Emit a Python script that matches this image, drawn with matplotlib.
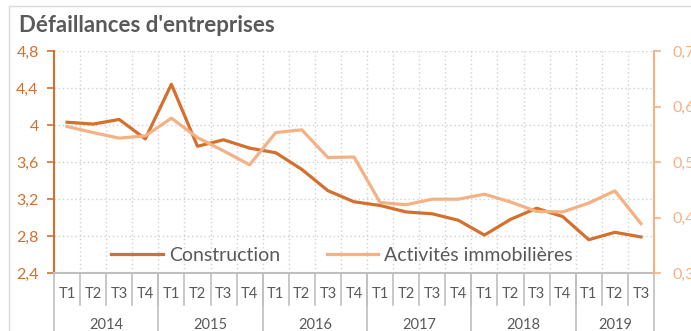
import matplotlib.pyplot as plt
import matplotlib.transforms as mtransforms
from matplotlib.lines import Line2D
from matplotlib.patches import Rectangle
from matplotlib.ticker import FuncFormatter
import numpy as np

plt.rcParams['font.family'] = ['Lato', 'DejaVu Sans']

years = ['2014', '2015', '2016', '2017', '2018', '2019']
quarters_per_year = [4, 4, 4, 4, 4, 3]
quarter_labels = [f"T{q + 1}" for n in quarters_per_year for q in range(n)]

construction = [4.03, 4.01, 4.06, 3.85,
                4.44, 3.77, 3.84, 3.75,
                3.70, 3.52, 3.29, 3.17,
                3.13, 3.06, 3.04, 2.97,
                2.81, 2.98, 3.10, 3.01,
                2.76, 2.84, 2.79]
immobilier = [0.564, 0.553, 0.543, 0.547,
              0.579, 0.544, 0.520, 0.495,
              0.553, 0.558, 0.508, 0.509,
              0.427, 0.423, 0.433, 0.433,
              0.442, 0.428, 0.411, 0.410,
              0.426, 0.448, 0.389]

dark = '#D4702E'
light = '#F4B183'
grey_txt = '#595959'
grey_line = '#BFBFBF'

W, H = 691, 331
fig = plt.figure(figsize=(W / 100, H / 100), dpi=100)
ax = fig.add_axes([54 / W, 1 - 273 / H, 600 / W, 222 / H])
ax2 = ax.twinx()

# chart border
fig.patches.append(Rectangle((9 / W, -0.1), 1.2, 1.1 - 6 / H, transform=fig.transFigure,
                             fill=False, edgecolor='#D9D9D9', linewidth=1))

x = np.arange(len(construction))
l1, = ax.plot(x, construction, color=dark, lw=2.3, label='Construction', zorder=3)
l2, = ax2.plot(x, immobilier, color=light, lw=2.3, label='Activités immobilières', zorder=2)

n = len(x)
ax.set_xlim(-0.5, n - 0.5)
ax.set_ylim(2.4, 4.8)
ax2.set_ylim(0.3, 0.7)
ax.set_yticks(np.arange(2.4, 4.81, 0.4))
ax2.set_yticks(np.arange(0.3, 0.71, 0.1))
fmt = lambda v, p: f"{v:.2f}".rstrip('0').rstrip('.').replace('.', ',')
ax.yaxis.set_major_formatter(FuncFormatter(fmt))
ax2.yaxis.set_major_formatter(FuncFormatter(fmt))

ax.tick_params(axis='y', colors=dark, labelsize=11.5, length=5, width=1.2, pad=6)
ax2.tick_params(axis='y', colors=light, labelsize=11.5, length=5, width=1.2, pad=8)
ax.tick_params(axis='x', length=0, labelbottom=False)

for a in (ax, ax2):
    for s in a.spines.values():
        s.set_visible(False)
ax.spines['left'].set_visible(True)
ax.spines['left'].set_color(dark)
ax.spines['left'].set_linewidth(1.5)
ax2.spines['right'].set_visible(True)
ax2.spines['right'].set_color(light)
ax2.spines['right'].set_linewidth(1.5)
ax.spines['bottom'].set_visible(True)
ax.spines['bottom'].set_color(grey_line)
ax.spines['bottom'].set_linewidth(1.5)

# dotted grid
for yv in np.arange(2.8, 4.81, 0.4):
    ax.axhline(yv, color='#D0D0D0', lw=1, ls=(0, (1, 2)), zorder=0)
for xv in np.arange(0.5, n - 0.5, 1):
    ax.axvline(xv, color='#D0D0D0', lw=1, ls=(0, (1, 2)), zorder=0)

# two-level category axis
trans = mtransforms.blended_transform_factory(ax.transData, ax.transAxes)
row2 = -32 / 222
for i, lab in enumerate(quarter_labels):
    ax.text(i, -21 / 222, lab, transform=trans, ha='center', va='center',
            fontsize=10.5, color=grey_txt)
for b in np.arange(0.5, n - 0.5, 1):
    ax.add_line(Line2D([b, b], [0, row2], transform=trans, color=grey_line,
                       lw=1.2, clip_on=False))
start = 0
bounds = [-0.5]
for yr, k in zip(years, quarters_per_year):
    mid = start + (k - 1) / 2
    ax.text(mid, -52 / 222, yr, transform=trans, ha='center', va='center',
            fontsize=10.5, color=grey_txt)
    start += k
    bounds.append(start - 0.5)
for b in bounds:
    ax.add_line(Line2D([b, b], [0, -0.4], transform=trans, color=grey_line,
                       lw=1.2, clip_on=False))

ax.legend(handles=[l1, l2], loc='center', bbox_to_anchor=(0.48, 0.081), ncol=2,
          frameon=False, fontsize=14, handlelength=2.65, columnspacing=2.4,
          handletextpad=0.3, labelcolor=grey_txt)

fig.text(19 / W, 1 - 25 / H, "Défaillances d'entreprises", fontsize=16, fontweight='bold',
         color=grey_txt, ha='left', va='center')

fig.savefig('out.png', dpi=100)
